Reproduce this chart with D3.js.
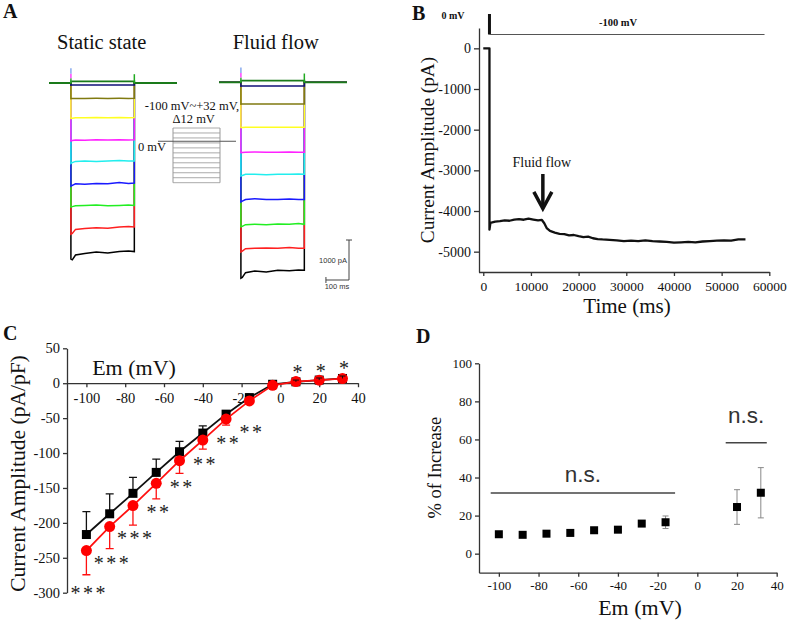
<!DOCTYPE html>
<html><head><meta charset="utf-8">
<script src="https://cdn.jsdelivr.net/npm/d3@7"></script>
<style>body{margin:0;background:#fff}svg{display:block;background:#fff}</style>
</head><body><svg id="c" width="787" height="622"></svg>
<script>
// ---------- Panel A data (current in pA, time in ms) ----------
const traceColors = ["#000000","#ff2020","#22ee22","#1a1aff","#22eeee","#ff22ff","#ffff22","#807a10","#101078","#1a7a1a"];
const traceTimes = [0, 6, 20, 60, 110, 160, 210, 250, 275];
const staticTraces = [
  [-4400,-4420,-4300,-4260,-4225,-4250,-4210,-4200,-4215],
  [-3780,-3760,-3660,-3640,-3620,-3630,-3600,-3590,-3600],
  [-3100,-3090,-3070,-3060,-3050,-3070,-3060,-3050,-3060],
  [-2580,-2560,-2520,-2530,-2510,-2520,-2490,-2510,-2500],
  [-2010,-1990,-1960,-1950,-1960,-1950,-1940,-1950,-1950],
  [-1450,-1440,-1425,-1430,-1420,-1425,-1420,-1425,-1420],
  [-885,-880,-870,-870,-865,-870,-865,-870,-865],
  [-390,-388,-385,-385,-383,-385,-383,-385,-383],
  [-55,-52,-50,-50,-50,-50,-50,-50,-50],
  [40,40,40,40,40,40,40,40,40]
];
const fluidTraces = [
  [-4900,-4880,-4760,-4720,-4740,-4700,-4710,-4690,-4700],
  [-4240,-4220,-4160,-4150,-4140,-4150,-4130,-4150,-4150],
  [-3610,-3600,-3560,-3550,-3560,-3540,-3550,-3530,-3550],
  [-2990,-2970,-2930,-2910,-2930,-2930,-2920,-2930,-2930],
  [-2340,-2330,-2300,-2300,-2310,-2300,-2300,-2295,-2300],
  [-1760,-1755,-1750,-1745,-1750,-1750,-1745,-1750,-1750],
  [-1130,-1128,-1125,-1125,-1122,-1125,-1125,-1125,-1125],
  [-545,-542,-540,-540,-540,-542,-540,-540,-540],
  [-95,-92,-92,-92,-92,-92,-92,-92,-92],
  [40,40,40,40,40,40,40,40,40]
];
const preStart = -95, stepEnd = 275, postEnd = 460;
const stepVoltages = [-100,-88,-76,-64,-52,-40,-28,-16,-4,8,20,32];

// ---------- Panel B data ----------
const timeMs = [0,1300,1300,1500,2500,3500,4500,5500,6500,7500,8500,9500,10500,11500,12300,12800,13300,14000,15000,16000,17000,18000,19000,20000,21000,22000,23000,24000,25000,26500,28000,29500,31000,32500,34000,35500,37000,38500,40000,41500,43000,44500,46000,47500,49000,50500,52000,53500,55000];
const currentPA = [0,0,-4460,-4290,-4260,-4250,-4230,-4240,-4210,-4200,-4215,-4190,-4210,-4230,-4220,-4300,-4420,-4490,-4530,-4560,-4570,-4600,-4590,-4620,-4640,-4630,-4670,-4690,-4700,-4710,-4720,-4740,-4730,-4740,-4720,-4740,-4750,-4760,-4780,-4770,-4760,-4770,-4750,-4740,-4730,-4720,-4730,-4700,-4700];
const bYTicks = [0,-1000,-2000,-3000,-4000,-5000];
const bXTicks = [0,10000,20000,30000,40000,50000,60000];
const flowOnset = 12500;

// ---------- Panel C data ----------
const emC = [-100,-88,-76,-64,-52,-40,-28,-16,-4,8,20,32];
const staticMean = [-216.7,-187,-157.7,-127.7,-98.1,-71.4,-44.3,-20.6,-1.5,2.0,4.5,6.8];
const staticSD   = [32.8,28.4,22.8,19.1,14.7,10.4,4,3,2,2.5,3,3.5];
const flowMean   = [-239.6,-205.3,-175.3,-143.4,-111,-81.4,-51.4,-25.3,-3,2.3,4.3,6.6];
const flowSD     = [34.7,31.7,28,22.3,18,12.9,8.6,3,2,2,2,2];
const sigLabels  = ["***","***","***","**","**","**","**","**","","*","*","*"];
const sigAt      = [-296,-252,-217,-180,-143,-111,-80,-65,null,20.5,22.3,27.2];
const cYTicks = [50,0,-50,-100,-150,-200,-250,-300];
const cXTicks = [-100,-80,-60,-40,-20,0,20,40];

// ---------- Panel D data ----------
const emD = [-100,-88,-76,-64,-52,-40,-28,-16,20,32];
const pctIncrease = [10.2,9.9,10.5,10.9,12.3,12.6,15.8,16.5,24.5,32];
const pctSD = [1,1,1,1,1,1,1.5,3.3,9.1,13.2];
const nsFrom = [-104.1, 14.3], nsTo = [-11.2, 35], nsLevel = [31.9, 58.3], nsTextLevel = [37.9, 68.5];
const dYTicks = [0,20,40,60,80,100];
const dXTicks = [-100,-80,-60,-40,-20,0,20,40];

// ================================================================
const svg = d3.select("#c");
const serif = '"Liberation Serif","Times New Roman",serif';
const sans = '"Liberation Sans",Arial,sans-serif';
const fmt = d => String(d);

function styleAxis(g, size) {
  g.attr("font-family", serif).attr("font-size", size);
  g.selectAll("path,line").attr("stroke", "#333").attr("stroke-width", 1.3);
  g.selectAll("text").attr("fill", "#111");
}
function txt(x, y, s, opts = {}) {
  const t = svg.append("text").attr("x", x).attr("y", y).text(s)
    .attr("font-family", opts.family || serif).attr("font-size", opts.size || 14)
    .attr("text-anchor", opts.anchor || "start").attr("fill", opts.fill || "#111");
  if (opts.weight) t.attr("font-weight", opts.weight);
  if (opts.rotate) t.attr("transform", `rotate(-90,${x},${y})`);
  if (opts.ls !== undefined) t.attr("letter-spacing", opts.ls);
  return t;
}

// panel letters
txt(3, 18, "A", {size: 20, weight: "bold"});
txt(412, 20, "B", {size: 20, weight: "bold"});
txt(3, 340, "C", {size: 20, weight: "bold"});
txt(416, 343, "D", {size: 20, weight: "bold"});

// ================= Panel A =================
txt(101.7, 48.5, "Static state", {size: 20.5, anchor: "middle"});
txt(275.7, 48.5, "Fluid flow", {size: 20.5, anchor: "middle"});

function drawTraces(traces, xs, ys) {
  const line = d3.line().x(d => xs(d[0])).y(d => ys(d[1]));
  traces.forEach((vals, i) => {
    const pts = [[preStart, 0], [0, 0]];
    traceTimes.forEach((t, j) => pts.push([t, vals[j]]));
    pts.push([stepEnd, 0], [postEnd, 0]);
    svg.append("path").attr("d", line(pts)).attr("fill", "none")
      .attr("stroke", traceColors[i]).attr("stroke-width", i === traces.length - 1 ? 1.8 : 1.5);
  });
  // capacitive transients
  [["#3a3", 0, 120], ["#f4f", 120, 230], ["#8ae", 230, 370]].forEach(s => {
    svg.append("line").attr("x1", xs(0)).attr("x2", xs(0)).attr("y1", ys(s[1])).attr("y2", ys(s[2]))
      .attr("stroke", s[0]).attr("stroke-width", 1.5);
  });
  svg.append("line").attr("x1", xs(stepEnd)).attr("x2", xs(stepEnd)).attr("y1", ys(0)).attr("y2", ys(220))
    .attr("stroke", "#2a2").attr("stroke-width", 1.5);
}
const xA1 = d3.scaleLinear().domain([preStart, postEnd]).range([49, 177]);
const yA1 = d3.scaleLinear().domain([-5000, 0]).range([283, 83]);
const xA2 = d3.scaleLinear().domain([preStart, postEnd]).range([219, 347]);
const yA2 = d3.scaleLinear().domain([-5000, 0]).range([282.3, 82.3]);
drawTraces(staticTraces, xA1, yA1);
drawTraces(fluidTraces, xA2, yA2);

// voltage protocol inset
const vS = d3.scaleLinear().domain([-100, 32]).range([182.7, 128]);
stepVoltages.forEach(v => {
  svg.append("line").attr("x1", 173).attr("x2", 220).attr("y1", vS(v)).attr("y2", vS(v))
    .attr("stroke", "#aaa").attr("stroke-width", 1);
});
[173, 220].forEach(x => svg.append("line").attr("x1", x).attr("x2", x)
  .attr("y1", vS(32)).attr("y2", vS(-100)).attr("stroke", "#999").attr("stroke-width", 1));
svg.append("line").attr("x1", 158).attr("x2", 236).attr("y1", vS(0)).attr("y2", vS(0))
  .attr("stroke", "#555").attr("stroke-width", 1);
txt(166, vS(0) + 10, "0 mV", {size: 12.5, anchor: "end"});
txt(192, 110, "-100 mV~+32 mV,", {size: 12.5, anchor: "middle"});
txt(193.7, 122.5, "Δ12 mV", {size: 12.5, anchor: "middle"});

// scale bar (1000 pA, 100 ms) using panel A scales
const barX = 349, barY = 280;
const pA1000 = yA2(-1000) - yA2(0);
const ms100 = xA2(100) - xA2(0);
svg.append("path").attr("d", `M${barX - ms100},${barY - 3}V${barY + 3}M${barX - ms100},${barY}H${barX}V${barY - pA1000}M${barX - 3},${barY - pA1000}H${barX + 3}`)
  .attr("fill", "none").attr("stroke", "#444").attr("stroke-width", 1);
txt(347, 263, "1000 pA", {size: 7.5, family: sans, anchor: "end", fill: "#333"});
txt(337, 289, "100 ms", {size: 7.5, family: sans, anchor: "middle", fill: "#333"});

// ================= Panel B =================
const xB = d3.scaleLinear().domain([-1000, 60000]).range([478.5, 769.3]);
const yB = d3.scaleLinear().domain([-5500, 500]).range([272, 28]);
const gBy = svg.append("g").attr("transform", "translate(479,0)")
  .call(d3.axisLeft(yB).tickValues(bYTicks).tickFormat(fmt).tickSize(5).tickSizeOuter(0).tickPadding(3));
styleAxis(gBy, 14);
const gBx = svg.append("g").attr("transform", "translate(0,272)")
  .call(d3.axisBottom(xB).tickValues(bXTicks).tickFormat(fmt).tickSize(4).tickSizeOuter(0).tickPadding(5));
styleAxis(gBx, 13.5);
svg.append("path").attr("d", d3.line().x((d, i) => xB(timeMs[i])).y(d => yB(d))(currentPA))
  .attr("fill", "none").attr("stroke", "#111").attr("stroke-width", 2.3).attr("stroke-linejoin", "round");
// protocol
const vB = d3.scaleLinear().domain([-100, 0]).range([34.5, 14]);
svg.append("line").attr("x1", xB(1300)).attr("x2", xB(1300)).attr("y1", vB(0)).attr("y2", vB(-100))
  .attr("stroke", "#111").attr("stroke-width", 3);
svg.append("line").attr("x1", xB(1300)).attr("x2", xB(59000)).attr("y1", vB(-100)).attr("y2", vB(-100))
  .attr("stroke", "#555").attr("stroke-width", 1);
txt(453, 19, "0 mV", {size: 10, weight: "bold", anchor: "middle"});
txt(618, 26, "-100 mV", {size: 10.5, weight: "bold", anchor: "middle"});
// arrow
svg.append("line").attr("x1", xB(flowOnset)).attr("x2", xB(flowOnset)).attr("y1", yB(-3090)).attr("y2", yB(-3900))
  .attr("stroke", "#111").attr("stroke-width", 3.5);
svg.append("path").attr("d", `M${xB(flowOnset) - 9},${yB(-3530)}L${xB(flowOnset)},${yB(-3940)}L${xB(flowOnset) + 9},${yB(-3530)}`)
  .attr("fill", "none").attr("stroke", "#111").attr("stroke-width", 3.5);
txt(xB(flowOnset) - 1, 167, "Fluid flow", {size: 14, anchor: "middle"});
txt(434, 150, "Current Amplitude (pA)", {size: 19.3, anchor: "middle", rotate: true});
txt(627, 313, "Time (ms)", {size: 21, anchor: "middle"});

// ================= Panel C =================
const xC = d3.scaleLinear().domain([-110, 40]).range([67, 358]);
const yC = d3.scaleLinear().domain([-300, 50]).range([592.7, 348.3]);
const gCy = svg.append("g").attr("transform", "translate(67,0)")
  .call(d3.axisLeft(yC).tickValues(cYTicks).tickFormat(fmt).tickSize(4).tickSizeOuter(0).tickPadding(3));
styleAxis(gCy, 14.5);
const gCx = svg.append("g").attr("transform", `translate(0,${yC(0)})`)
  .call(d3.axisBottom(xC).tickValues(cXTicks).tickFormat(fmt).tickSize(4).tickSizeOuter(0).tickPadding(6));
styleAxis(gCx, 14.5);
txt(134, 375, "Em (mV)", {size: 22, anchor: "middle"});
txt(24.5, 473.5, "Current Amplitude (pA/pF)", {size: 21.5, anchor: "middle", rotate: true});

const lineC = (m) => d3.line().x((d, i) => xC(emC[i])).y(d => yC(d))(m);
emC.forEach((e, i) => {
  const x = xC(e);
  svg.append("path").attr("d", `M${x},${yC(staticMean[i])}V${yC(staticMean[i] + staticSD[i])}M${x - 4},${yC(staticMean[i] + staticSD[i])}H${x + 4}`)
    .attr("stroke", "#111").attr("stroke-width", 1.3).attr("fill", "none");
});
svg.append("path").attr("d", lineC(staticMean)).attr("fill", "none").attr("stroke", "#111").attr("stroke-width", 1.8);
emC.forEach((e, i) => {
  svg.append("rect").attr("x", xC(e) - 4.5).attr("y", yC(staticMean[i]) - 4.5).attr("width", 9).attr("height", 9).attr("fill", "#000");
});
emC.forEach((e, i) => {
  const x = xC(e);
  svg.append("path").attr("d", `M${x},${yC(flowMean[i])}V${yC(flowMean[i] - flowSD[i])}M${x - 4},${yC(flowMean[i] - flowSD[i])}H${x + 4}`)
    .attr("stroke", "#ff1010").attr("stroke-width", 1.3).attr("fill", "none");
});
svg.append("path").attr("d", lineC(flowMean)).attr("fill", "none").attr("stroke", "#ff1010").attr("stroke-width", 1.8);
emC.forEach((e, i) => {
  svg.append("circle").attr("cx", xC(e)).attr("cy", yC(flowMean[i])).attr("r", 5.5).attr("fill", "#ff0000");
});
emC.forEach((e, i) => {
  if (e > 0) {
    const x = xC(e);
    svg.append("path").attr("d", `M${x},${yC(staticMean[i])}V${yC(staticMean[i] + staticSD[i])}M${x - 3},${yC(staticMean[i] + staticSD[i])}H${x + 3}`)
      .attr("stroke", "#111").attr("stroke-width", 1).attr("fill", "none");
  }
});
// significance
emC.forEach((e, i) => {
  if (!sigLabels[i]) return;
  txt(xC(e) + 1.5 + 1.25, yC(sigAt[i]) + 10.5, sigLabels[i], {size: 20, anchor: "middle", ls: 2.5, fill: "#222"});
});

// ================= Panel D =================
const xD = d3.scaleLinear().domain([-110, 40]).range([479, 776.7]);
const yD = d3.scaleLinear().domain([-10, 100]).range([572.7, 363.3]);
const gDy = svg.append("g").attr("transform", "translate(479,0)")
  .call(d3.axisLeft(yD).tickValues(dYTicks).tickFormat(fmt).tickSize(4).tickSizeOuter(0).tickPadding(3));
styleAxis(gDy, 13);
const gDx = svg.append("g").attr("transform", `translate(0,${yD(-10)})`)
  .call(d3.axisBottom(xD).tickValues(dXTicks).tickFormat(fmt).tickSize(4).tickSizeOuter(0).tickPadding(4));
styleAxis(gDx, 13);
emD.forEach((e, i) => {
  const x = xD(e), lo = yD(pctIncrease[i] - pctSD[i]), hi = yD(pctIncrease[i] + pctSD[i]);
  svg.append("path").attr("d", `M${x},${lo}V${hi}M${x - 3},${lo}H${x + 3}M${x - 3},${hi}H${x + 3}`)
    .attr("stroke", "#888").attr("stroke-width", 1).attr("fill", "none");
  svg.append("rect").attr("x", x - 4).attr("y", yD(pctIncrease[i]) - 4).attr("width", 8).attr("height", 8).attr("fill", "#000");
});
nsFrom.forEach((f, i) => {
  svg.append("line").attr("x1", xD(f)).attr("x2", xD(nsTo[i])).attr("y1", yD(nsLevel[i])).attr("y2", yD(nsLevel[i]))
    .attr("stroke", "#444").attr("stroke-width", 1.5);
  txt((xD(f) + xD(nsTo[i])) / 2, yD(nsTextLevel[i]), "n.s.", {size: 22.5, family: sans, anchor: "middle", fill: "#333"});
});
txt(640, 615, "Em (mV)", {size: 22, anchor: "middle"});
txt(441, 467.7, "% of Increase", {size: 18.5, anchor: "middle", rotate: true});
</script></body></html>
